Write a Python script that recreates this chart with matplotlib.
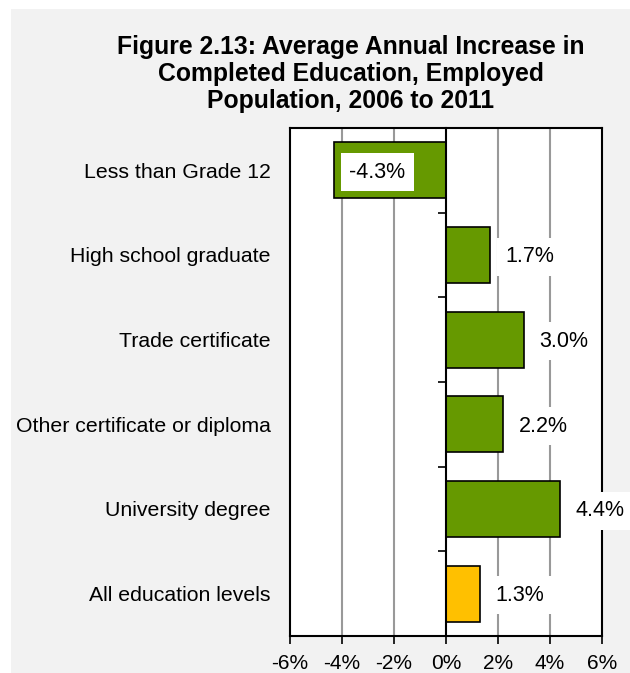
import matplotlib
matplotlib.use("Agg")
import matplotlib.pyplot as plt
import matplotlib.transforms as mtransforms
from matplotlib.patches import Rectangle

plt.rcParams['font.family'] = ['Liberation Sans', 'DejaVu Sans']

categories = [
    "Less than Grade 12",
    "High school graduate",
    "Trade certificate",
    "Other certificate or diploma",
    "University degree",
    "All education levels",
]
values = [-4.3, 1.7, 3.0, 2.2, 4.4, 1.3]
bar_colors = ["#669900", "#669900", "#669900", "#669900", "#669900", "#FFC000"]
x_ticks = [-6, -4, -2, 0, 2, 4, 6]
x_tick_labels = ["-6%", "-4%", "-2%", "0%", "2%", "4%", "6%"]
title = "Figure 2.13: Average Annual Increase in\nCompleted Education, Employed\nPopulation, 2006 to 2011"

W, H = 630, 673
fig = plt.figure(figsize=(W / 100, H / 100), dpi=100, facecolor="white")

# light grey panel behind the chart
fig.patches.append(Rectangle((11 / W, 0), 1 - 11 / W, 1 - 9 / H,
                             transform=fig.transFigure, facecolor="#f2f2f2",
                             edgecolor="none", zorder=-10))

ax = fig.add_axes([290 / W, 1 - 636 / H, (602 - 290) / W, (636 - 128) / H])
ax.set_facecolor("white")

ypos = list(range(len(categories)))
ax.barh(ypos, values, height=0.66, color=bar_colors, edgecolor="black",
        linewidth=1.2, zorder=3)

ax.set_xlim(-6, 6)
ax.set_ylim(len(categories) - 0.5, -0.5)

# vertical gridlines
for xv in x_ticks[1:-1]:
    if xv != 0:
        ax.axvline(xv, color="#999999", linewidth=1.5, zorder=1)

ax.set_xticks(x_ticks)
ax.set_xticklabels(x_tick_labels)
ax.tick_params(axis="x", direction="out", length=6, width=1.2, labelsize=15,
               pad=7, colors="black")

# category axis runs along the zero line
ax.spines["left"].set_position(("data", 0))
ax.spines["left"].set_linewidth(1.5)
ax.spines["left"].set_zorder(4)
ax.set_yticks([i - 0.5 for i in range(len(categories) + 1)])
ax.set_yticklabels([])
ax.tick_params(axis="y", direction="out", length=6, width=1.2)
for side in ("top", "right", "bottom"):
    ax.spines[side].set_linewidth(1.5)
ax.axvline(-6, color="black", linewidth=1.5, clip_on=False, zorder=5)

# category labels to the left of the plot area
trans = mtransforms.blended_transform_factory(ax.transAxes, ax.transData)
for i, name in enumerate(categories):
    ax.text(-0.062, i + 0.02, name, transform=trans, ha="right", va="center",
            fontsize=15.3, color="black")

# value labels
for i, v in enumerate(values):
    ax.annotate(f"{v:.1f}%", xy=(v, i + 0.02), xytext=(11, 0),
                textcoords="offset points", ha="left", va="center",
                fontsize=15.5, color="black", zorder=6,
                bbox=dict(boxstyle="square,pad=0.4", facecolor="white",
                          edgecolor="none"))

fig.text(351 / W, 1 - 74 / H, title, ha="center", va="center",
         fontsize=17.8, fontweight="bold", linespacing=1.16)

fig.savefig("out.png", dpi=100, facecolor="white")
